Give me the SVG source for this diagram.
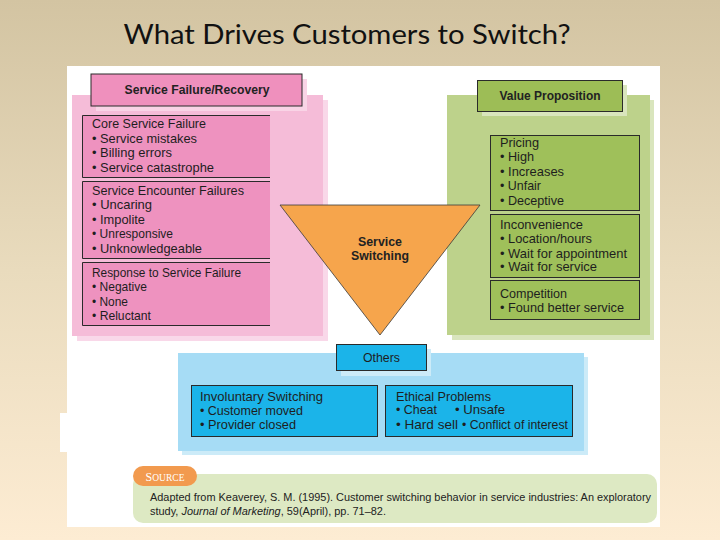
<svg xmlns="http://www.w3.org/2000/svg" width="720" height="540" viewBox="0 0 720 540">
<defs>
<linearGradient id="bg" x1="0" y1="0" x2="0" y2="1">
<stop offset="0" stop-color="#d3c4a2"/>
<stop offset="0.5" stop-color="#e9dbbd"/>
<stop offset="1" stop-color="#fdecd3"/>
</linearGradient>
</defs>
<style>
.t{font-family:"Liberation Sans",Arial,sans-serif;font-size:13px;fill:#1e1e1e}
.b{font-family:"Liberation Sans",Arial,sans-serif;font-size:12.5px;font-weight:bold;fill:#222}
.bx{stroke:#2a2a2a;stroke-width:1}
.src{font-family:"Liberation Sans",Arial,sans-serif;font-size:11.5px;fill:#222}
</style>
<rect x="0" y="0" width="720" height="540" fill="url(#bg)"/>
<text x="347" y="44" text-anchor="middle" font-family="Lato,'Open Sans',sans-serif" font-size="26" fill="#111" textLength="447" lengthAdjust="spacingAndGlyphs">What Drives Customers to Switch?</text>
<rect x="67" y="66" width="593" height="461" fill="#ffffff"/>
<rect x="60" y="413" width="8" height="39" fill="#ffffff"/>

<g id="service-failure">
<rect x="77" y="100" width="251" height="241" fill="#f9d8e9"/>
<rect x="72" y="95" width="251" height="241" fill="#f5bcd8"/>
<rect x="96" y="79" width="211" height="32" fill="#f9d4e6"/>
<rect x="91" y="74" width="211" height="32" fill="#ef90bd" class="bx"/>
<text x="197" y="94" text-anchor="middle" class="b" textLength="145" lengthAdjust="spacingAndGlyphs">Service Failure/Recovery</text>
<rect x="82" y="115" width="188" height="63" fill="#ee92bf"/>
<path d="M270,115.5 H82.5 V177.5 H270" fill="none" class="bx"/>
<text class="t" x="92" y="128" textLength="114" lengthAdjust="spacingAndGlyphs">Core Service Failure</text>
<text class="t" x="92" y="142.5" textLength="105" lengthAdjust="spacingAndGlyphs">• Service mistakes</text>
<text class="t" x="92" y="157" textLength="80" lengthAdjust="spacingAndGlyphs">• Billing errors</text>
<text class="t" x="92" y="171.5" textLength="122" lengthAdjust="spacingAndGlyphs">• Service catastrophe</text>
<rect x="82" y="181" width="188" height="78" fill="#ee92bf"/>
<path d="M270,181.5 H82.5 V258.5 H270" fill="none" class="bx"/>
<text class="t" x="92" y="194.5" textLength="152" lengthAdjust="spacingAndGlyphs">Service Encounter Failures</text>
<text class="t" x="92" y="209" textLength="60" lengthAdjust="spacingAndGlyphs">• Uncaring</text>
<text class="t" x="92" y="223.5" textLength="53" lengthAdjust="spacingAndGlyphs">• Impolite</text>
<text class="t" x="92" y="238" textLength="81" lengthAdjust="spacingAndGlyphs">• Unresponsive</text>
<text class="t" x="92" y="252.5" textLength="110" lengthAdjust="spacingAndGlyphs">• Unknowledgeable</text>
<rect x="82" y="262" width="188" height="64" fill="#ee92bf"/>
<path d="M270,262.5 H82.5 V325.5 H270" fill="none" class="bx"/>
<text class="t" x="92" y="276.5" textLength="149" lengthAdjust="spacingAndGlyphs">Response to Service Failure</text>
<text class="t" x="92" y="291" textLength="55" lengthAdjust="spacingAndGlyphs">• Negative</text>
<text class="t" x="92" y="305.5" textLength="36" lengthAdjust="spacingAndGlyphs">• None</text>
<text class="t" x="92" y="320" textLength="59" lengthAdjust="spacingAndGlyphs">• Reluctant</text>
</g>

<g id="value-proposition">
<rect x="452" y="100" width="202" height="240" fill="#d9e5bd"/>
<rect x="447" y="95" width="203" height="240" fill="#bdd28b"/>
<rect x="482" y="85" width="145" height="31" fill="#d9e5bd"/>
<rect x="477.5" y="80.5" width="145" height="31" fill="#9dbd56" class="bx"/>
<text x="550" y="100" text-anchor="middle" class="b" textLength="101" lengthAdjust="spacingAndGlyphs">Value Proposition</text>
<rect x="490.5" y="135.5" width="149" height="75" fill="#9fc05a" class="bx"/>
<text class="t" x="500" y="146.5" textLength="39" lengthAdjust="spacingAndGlyphs">Pricing</text>
<text class="t" x="500" y="161" textLength="34" lengthAdjust="spacingAndGlyphs">• High</text>
<text class="t" x="500" y="175.5" textLength="64" lengthAdjust="spacingAndGlyphs">• Increases</text>
<text class="t" x="500" y="190" textLength="41" lengthAdjust="spacingAndGlyphs">• Unfair</text>
<text class="t" x="500" y="204.5" textLength="64" lengthAdjust="spacingAndGlyphs">• Deceptive</text>
<rect x="490.5" y="214.5" width="149" height="63" fill="#9fc05a" class="bx"/>
<text class="t" x="500" y="228.5" textLength="83" lengthAdjust="spacingAndGlyphs">Inconvenience</text>
<text class="t" x="500" y="243" textLength="92" lengthAdjust="spacingAndGlyphs">• Location/hours</text>
<text class="t" x="500" y="257.5" textLength="127" lengthAdjust="spacingAndGlyphs">• Wait for appointment</text>
<text class="t" x="500" y="271" textLength="97" lengthAdjust="spacingAndGlyphs">• Wait for service</text>
<rect x="490.5" y="280.5" width="149" height="39" fill="#9fc05a" class="bx"/>
<text class="t" x="500" y="297.5" textLength="67" lengthAdjust="spacingAndGlyphs">Competition</text>
<text class="t" x="500" y="311.5" textLength="124" lengthAdjust="spacingAndGlyphs">• Found better service</text>
</g>

<g id="service-switching">
<polygon points="280,205 480,205 380,335" fill="#f6a54c" stroke="#3a3a3a" stroke-width="0.8"/>
<text x="380" y="245.5" text-anchor="middle" class="b" textLength="44" lengthAdjust="spacingAndGlyphs">Service</text>
<text x="380" y="259.5" text-anchor="middle" class="b" textLength="58" lengthAdjust="spacingAndGlyphs">Switching</text>
</g>

<g id="others">
<rect x="182" y="357" width="406" height="98" fill="#ccebf8"/>
<rect x="178" y="353" width="406" height="98" fill="#a6dcf5"/>
<rect x="341" y="349" width="90" height="27" fill="#ccebf8"/>
<rect x="336.5" y="344.5" width="90" height="26" fill="#1bb4e9" class="bx"/>
<text class="t" x="381.5" y="361.5" text-anchor="middle" textLength="37" lengthAdjust="spacingAndGlyphs">Others</text>
<rect x="191.5" y="385.5" width="186" height="51" fill="#1bb4e9" class="bx"/>
<text class="t" x="200" y="400.5" textLength="123" lengthAdjust="spacingAndGlyphs">Involuntary Switching</text>
<text class="t" x="200" y="414.5" textLength="103" lengthAdjust="spacingAndGlyphs">• Customer moved</text>
<text class="t" x="200" y="428.5" textLength="96" lengthAdjust="spacingAndGlyphs">• Provider closed</text>
<rect x="385.5" y="385.5" width="187" height="51" fill="#1bb4e9" class="bx"/>
<text class="t" x="396" y="400.5" textLength="95" lengthAdjust="spacingAndGlyphs">Ethical Problems</text>
<text class="t" x="396" y="414" textLength="41" lengthAdjust="spacingAndGlyphs">• Cheat</text>
<text class="t" x="455" y="414" textLength="50" lengthAdjust="spacingAndGlyphs">• Unsafe</text>
<text class="t" x="396" y="428.5" textLength="62" lengthAdjust="spacingAndGlyphs">• Hard sell</text>
<text class="t" x="462" y="428.5" textLength="106" lengthAdjust="spacingAndGlyphs">• Conflict of interest</text>
</g>

<g id="source">
<rect x="133" y="474" width="524" height="49" rx="10" fill="#dde9c3"/>
<rect x="133" y="466" width="64" height="20" rx="10" fill="#f29a4e"/>
<text x="165" y="480.5" text-anchor="middle" font-family="'Liberation Serif',serif" fill="#ffffff"><tspan font-size="12">S</tspan><tspan font-size="9.5">OURCE</tspan></text>
<text class="src" x="150" y="501" textLength="501" lengthAdjust="spacingAndGlyphs">Adapted from Keaverey, S. M. (1995). Customer switching behavior in service industries: An exploratory</text>
<text class="src" x="150" y="515" textLength="236" lengthAdjust="spacingAndGlyphs">study, <tspan font-style="italic">Journal of Marketing</tspan>, 59(April), pp. 71–82.</text>
</g>

<g id="connectors"/>
</svg>
